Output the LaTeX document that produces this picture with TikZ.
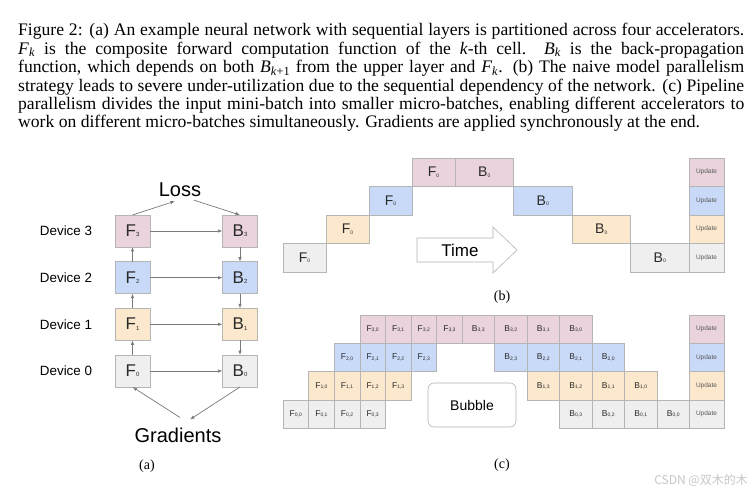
\documentclass[tikz,border=0pt]{standalone}
\usepackage{fontspec}
\setmainfont{Liberation Serif}
\newfontfamily\arial{Liberation Sans}
\newfontfamily\cjkfont{Noto Sans CJK SC}
\usetikzlibrary{arrows.meta}
\definecolor{d0}{HTML}{EFEFEF}
\definecolor{d1}{HTML}{FCE8CD}
\definecolor{d2}{HTML}{C9DAF8}
\definecolor{d3}{HTML}{EAD3DC}
\definecolor{edgegray}{HTML}{B5B5B5}
\definecolor{arrgray}{HTML}{7A7A7A}
\definecolor{celltext}{HTML}{2A2A2A}
\newcommand\lbl[4]{{\fontsize{#3}{#3}\selectfont #1}{\fontsize{#4}{#4}\selectfont\raisebox{-0.3pt}{#2}}}
\tikzset{
  capline/.style={anchor=base west, inner sep=0, font=\fontsize{17.6}{18}\selectfont},
  sublabel/.style={inner sep=0, font=\fontsize{14}{14}\selectfont},
  acell/.style={draw=edgegray, line width=0.6pt, minimum width=35pt, minimum height=32pt, inner sep=0, outer sep=0, font=\arial, text=celltext},
  bcell/.style={draw=edgegray, line width=0.6pt, minimum height=28.5pt, inner sep=0, outer sep=0, anchor=north west, font=\arial, text=celltext},
  ccell/.style={draw=edgegray, line width=0.6pt, minimum height=28.3pt, inner sep=0, outer sep=0, anchor=north west, font=\arial, text=celltext},
  updtext/.style={font=\arial\fontsize{6.5}{6.5}\selectfont, text=black!65},
  devlabel/.style={font=\arial\fontsize{13.4}{14}\selectfont, inner sep=0},
  bigword/.style={font=\arial\fontsize{20}{20}\selectfont, inner sep=1pt},
  conn/.style={draw=arrgray, line width=0.7pt, -{Latex[length=4.5pt,width=3.5pt]}},
}
\begin{document}
\begin{tikzpicture}[x=1pt,y=-1pt]
\useasboundingbox (0,0) rectangle (756,492);
\fill[white] (0,0) rectangle (756,492);

% caption
\node[capline] (cap1) at (18,36) {\makebox[726pt][s]{Figure 2: (a) An example neural network with sequential layers is partitioned across four accelerators.}};
\node[capline] (cap2) at (18,54.4) {\makebox[726pt][s]{\textit{F}\textsubscript{\textit{k}} is the composite forward computation function of the \textit{k}-th cell.\ \ \textit{B}\textsubscript{\textit{k}} is the back-propagation}};
\node[capline] (cap3) at (18,72.8) {\makebox[726pt][s]{function, which depends on both \textit{B}\textsubscript{\textit{k}+1} from the upper layer and \textit{F}\textsubscript{\textit{k}}. (b) The naive model parallelism}};
\node[capline] (cap4) at (18,91.2) {\makebox[726pt][s]{strategy leads to severe under-utilization due to the sequential dependency of the network. (c) Pipeline}};
\node[capline] (cap5) at (18,109.6) {\makebox[726pt][s]{parallelism divides the input mini-batch into smaller micro-batches, enabling different accelerators to}};
\node[capline] (cap6) at (18,128) {work on different micro-batches simultaneously. Gradients are applied synchronously at the end.};

% (a)
\foreach \r/\y in {0/371,1/324.3,2/277.7,3/231} {
  \node[devlabel] (dev\r) at (66,\y) {Device \r};
  \node[acell, fill=d\r] (aF\r) at (132.5,\y) {\lbl{F}{\r}{17}{6}};
  \node[acell, fill=d\r] (aB\r) at (240,\y) {\lbl{B}{\r}{17}{6}};
  \draw[conn] (aF\r) -- (aB\r);
}
\draw[conn] (aF0) -- (aF1);
\draw[conn] (aF1) -- (aF2);
\draw[conn] (aF2) -- (aF3);
\draw[conn] (aB3) -- (aB2);
\draw[conn] (aB2) -- (aB1);
\draw[conn] (aB1) -- (aB0);
\node[bigword] (loss) at (180,190) {Loss};
\node[bigword] (grad) at (178,435) {Gradients};
\draw[conn] (aF3.north) -- ([xshift=-5pt,yshift=-3pt]loss.south);
\draw[conn] ([xshift=14pt,yshift=-2pt]loss.south) -- (aB3.north);
\draw[conn] ([xshift=2pt,yshift=9pt]grad.north) -- (aF0.south);
\draw[conn] (aB0.south) -- ([xshift=12pt,yshift=7pt]grad.north);
\node[sublabel] (capa) at (147,466) {(a)};

% (b)
\foreach \r in {0,...,3} {
  \node[bcell, fill=d\r, minimum width=43pt] (bF\r) at ({283+43*\r},{158+28.5*(3-\r)}) {\lbl{F}{0}{14}{5}};
  \node[bcell, fill=d\r, minimum width=58.5pt] (bB\r) at ({455+58.5*(3-\r)},{158+28.5*(3-\r)}) {\lbl{B}{0}{14}{5}};
  \node[bcell, fill=d\r, minimum width=35pt, updtext] (bU\r) at (689,{158+28.5*(3-\r)}) {Update};
}
\draw[draw=edgegray, fill=white, line width=0.6pt] (417,238) -- (493,238) -- (493,227) -- (517,250) -- (493,273) -- (493,262) -- (417,262) -- cycle;
\node[font=\arial\fontsize{17}{17}\selectfont, inner sep=0] (time) at (460,250) {Time};
\node[sublabel] (capb) at (502,297) {(b)};

% (c)
\foreach \r in {0,...,3} {
  \foreach \m in {0,...,3} {
    \node[ccell, fill=d\r, minimum width=25.6pt] (cF\r\m) at ({283+25.6*(\r+\m)},{315+28.3*(3-\r)}) {\lbl{F}{\r,\m}{8.5}{5}};
    \node[ccell, fill=d\r, minimum width=32.5pt] (cB\r\m) at ({462+32.5*(6-\r-\m)},{315+28.3*(3-\r)}) {\lbl{B}{\r,\m}{8.5}{5}};
  }
  \node[ccell, fill=d\r, minimum width=35pt, updtext] (cU\r) at (689,{315+28.3*(3-\r)}) {Update};
}
\node[draw=edgegray, line width=0.6pt, rounded corners=6pt, minimum width=88pt, minimum height=44pt, inner sep=0, font=\arial\fontsize{14}{14}\selectfont] (bubble) at (472,405) {Bubble};
\node[sublabel] (capc) at (502,465) {(c)};

% watermark
\node[anchor=east, inner sep=0, font=\cjkfont\fontsize{12}{12}\selectfont, text=black!22] (wm) at (748,480) {CSDN @双木的木};
\end{tikzpicture}
\end{document}
